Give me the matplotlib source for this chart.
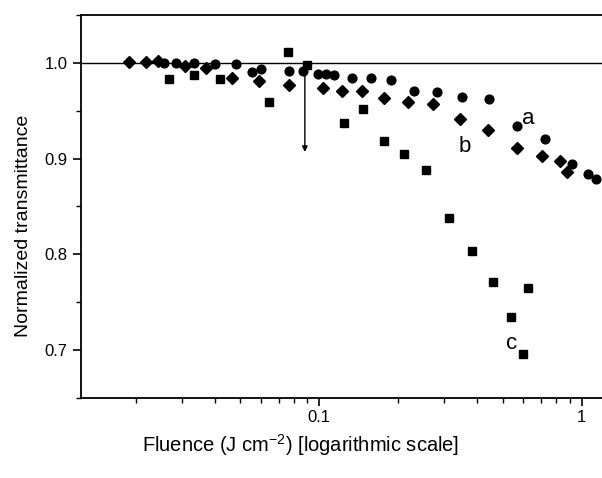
import matplotlib
matplotlib.use("Agg")
import matplotlib.pyplot as plt
from matplotlib.ticker import LogLocator, FixedLocator, NullFormatter, FixedFormatter

plt.rcParams['font.family'] = ['Liberation Sans', 'DejaVu Sans']
plt.rcParams['mathtext.fontset'] = 'custom'
plt.rcParams['mathtext.rm'] = 'Liberation Sans'
plt.rcParams['mathtext.it'] = 'Liberation Sans:italic'
plt.rcParams['mathtext.default'] = 'regular'

# Series a (circles)
a_x = [0.02555, 0.02848, 0.0333, 0.03993, 0.04831, 0.05545, 0.06015, 0.0764, 0.0867,
       0.0991, 0.1063, 0.1141, 0.1335, 0.1577, 0.1879, 0.2286, 0.2813, 0.3503, 0.4449,
       0.5657, 0.7251, 0.9161, 1.0595, 1.1384]
a_y = [0.9996, 0.9999, 0.9996, 0.9985, 0.9988, 0.9902, 0.9936, 0.9918, 0.9915,
       0.9879, 0.9889, 0.9873, 0.9839, 0.9845, 0.9821, 0.9706, 0.9699, 0.9640, 0.9620,
       0.9341, 0.9202, 0.8944, 0.8839, 0.8790]

# Series b (diamonds)
b_x = [0.01891, 0.02189, 0.02423, 0.0309, 0.03713, 0.04652, 0.05874, 0.0764, 0.1033,
       0.1220, 0.1454, 0.1768, 0.2173, 0.2716, 0.3441, 0.4410, 0.5657, 0.7043, 0.8233, 0.8768]
b_y = [1.0006, 1.0006, 1.0020, 0.9970, 0.9943, 0.9845, 0.9814, 0.9769, 0.9741,
       0.9706, 0.9706, 0.9630, 0.9588, 0.9567, 0.9414, 0.9299, 0.9111, 0.9027, 0.8980, 0.8863]

# Series c (squares)
c_x = [0.02669, 0.0333, 0.04198, 0.06424, 0.07587, 0.0896, 0.1237, 0.1467, 0.1757,
       0.2107, 0.2555, 0.3125, 0.3814, 0.4584, 0.5383, 0.5995, 0.6230]
c_y = [0.9828, 0.9870, 0.9828, 0.9595, 1.0117, 0.9983, 0.9375, 0.9515, 0.9184,
       0.9046, 0.8881, 0.8380, 0.8038, 0.7708, 0.7349, 0.6956, 0.7646]

labels = ['a', 'b', 'c']
label_x = [0.6247, 0.3595, 0.5416]
label_y = [0.9419, 0.9125, 0.7071]

arrow_x = 0.0881
arrow_y = [0.997, 0.907]

fig = plt.figure(figsize=(6.02, 4.78), dpi=100)
ax = fig.add_axes([0.1346, 0.1674, 0.8654, 0.8012])

ax.set_xscale('log')
ax.set_xlim(0.01236, 1.195)
ax.set_ylim(0.65, 1.05)

ax.axhline(1.0, color='black', lw=1.0, zorder=1)

ax.plot(a_x, a_y, 'o', color='black', ms=6.3, mec='black', zorder=3)
ax.plot(b_x, b_y, 'D', color='black', ms=5.7, mec='black', zorder=3)
ax.plot(c_x, c_y, 's', color='black', ms=6.3, mec='black', zorder=3)

for t, x, y in zip(labels, label_x, label_y):
    ax.text(x, y, t, fontsize=16, ha='center', va='center')

ax.annotate('', xy=(arrow_x, arrow_y[1]), xytext=(arrow_x, arrow_y[0]),
            arrowprops=dict(arrowstyle='-|>', color='black', lw=1.0,
                            mutation_scale=8, shrinkA=0, shrinkB=0))

for s in ['left', 'bottom', 'top']:
    ax.spines[s].set_linewidth(1.3)
ax.spines['right'].set_visible(False)

ax.yaxis.set_major_locator(FixedLocator([0.7, 0.8, 0.9, 1.0]))
ax.yaxis.set_major_formatter(FixedFormatter(['0.7', '0.8', '0.9', '1.0']))
ax.yaxis.set_minor_locator(FixedLocator([0.65, 0.75, 0.85, 0.95, 1.05]))
ax.xaxis.set_major_locator(FixedLocator([0.1, 1.0]))
ax.xaxis.set_major_formatter(FixedFormatter(['0.1', '1']))
ax.xaxis.set_minor_locator(LogLocator(base=10, subs=range(2, 10)))
ax.xaxis.set_minor_formatter(NullFormatter())

ax.tick_params(which='major', direction='out', length=6, width=1.2, labelsize=12, colors='black')
ax.tick_params(which='minor', direction='out', length=3.5, width=1.0)
ax.tick_params(axis='x', which='both', top=False)
ax.tick_params(axis='y', which='both', right=False)
ax.tick_params(axis='x', pad=3)

ax.set_ylabel('Normalized transmittance', fontsize=14)
ax.set_xlabel('Fluence (J cm$^{-2}$) [logarithmic scale]', fontsize=14.5)
ax.xaxis.set_label_coords(0.422, -0.09)
ax.yaxis.set_label_coords(-0.094, 0.449)

fig.savefig('out.png', dpi=100)
